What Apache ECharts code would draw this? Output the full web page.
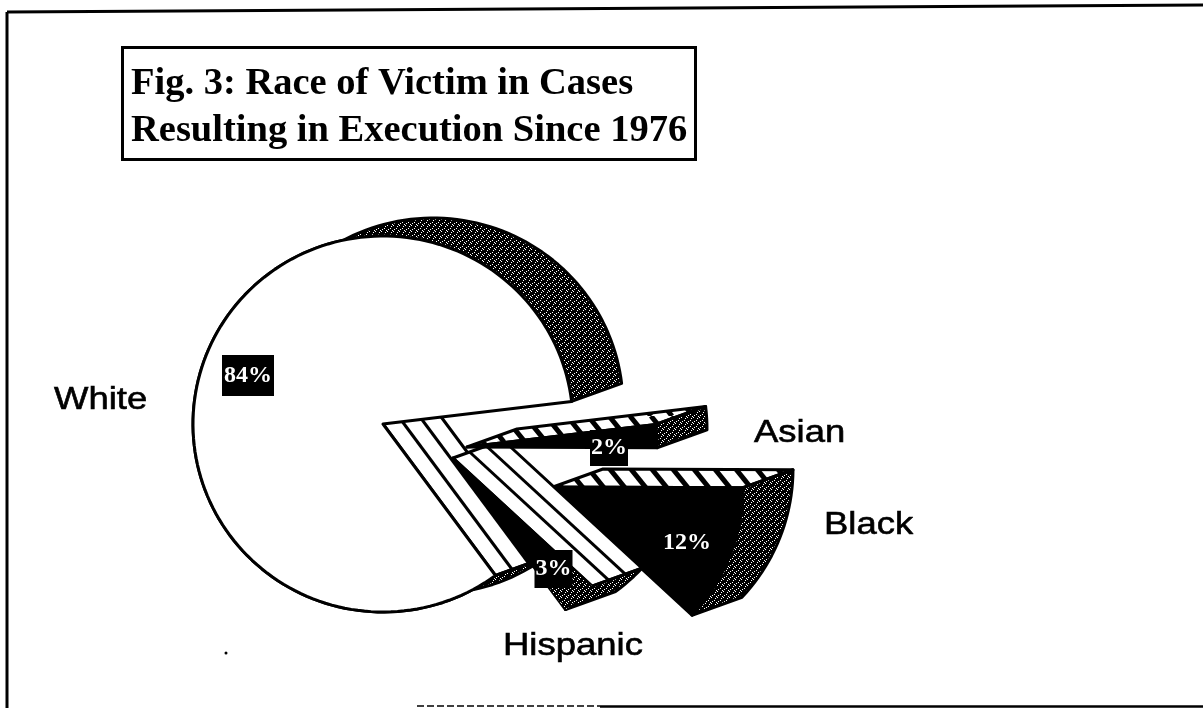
<!DOCTYPE html>
<html>
<head>
<meta charset="utf-8">
<style>
  html, body { margin: 0; padding: 0; background: #fff; }
  #chart { width: 1203px; height: 708px; }
</style>
<script src="https://cdn.jsdelivr.net/npm/echarts@6/dist/echarts.min.js"></script>
</head>
<body>
<div id="chart"></div>
<script>
// values as printed on the figure (they add up to 101)
const categories = ['Asian', 'Black', 'Hispanic', 'White'];
const values = [2, 12, 3, 84];
const drawOrder = ['White', 'Black', 'Hispanic', 'Asian'];
const titleLines = ['Fig. 3: Race of Victim in Cases', 'Resulting in Execution Since 1976'];

// look of the fake 3d pie
const pieCenter = [383, 424];
const radiusX = 190;
const radiusY = 188;
const depth = [50, -18];
const startAngle = 6.9;
const layout = {
  White: { explode: [0, 0], pct: [248, 375.5], pad: [5, 2, 12, 2], name: [54, 400], lines: 3 },
  Asian: { explode: [84, 23], pct: [609, 448], pad: [0, 1, 12, 1], name: [754, 433], hatch: true },
  Black: { explode: [170, 63], pct: [687, 543], pad: [0, 0, 0, 0], name: [824, 525], hatch: true },
  Hispanic: { explode: [70, 34], pct: [553.5, 569], pad: [2, 1, 12, 1], name: [503, 646], lines: 3, stipple: 0.78 }
};

function stippleTile() {
  const c = document.createElement('canvas');
  c.width = 6; c.height = 6;
  const ctx = c.getContext('2d');
  ctx.fillStyle = '#000';
  ctx.fillRect(0, 0, 6, 6);
  ctx.fillStyle = '#fff';
  [[0, 0], [3, 3], [1, 4], [4, 1], [2, 2]].forEach(function (p) { ctx.fillRect(p[0], p[1], 1, 1); });
  return c;
}

function hatchTile(w, h, lineW) {
  const c = document.createElement('canvas');
  c.width = w; c.height = h;
  const ctx = c.getContext('2d');
  ctx.fillStyle = '#fff';
  ctx.fillRect(0, 0, w, h);
  ctx.strokeStyle = '#000';
  ctx.lineWidth = lineW;
  [-w, 0, w].forEach(function (dx) {
    ctx.beginPath();
    ctx.moveTo(dx, 0);
    ctx.lineTo(dx + w, h);
    ctx.stroke();
  });
  return c;
}

const stipple = { image: stippleTile(), repeat: 'repeat' };
const hatch = { image: hatchTile(21, 26, 5), repeat: 'repeat' };

const total = values.reduce(function (a, b) { return a + b; }, 0);
let running = startAngle;
const startAngles = values.map(function (v) {
  const s = running;
  running -= v / total * 360;
  return s;
});

function onEllipse(apex, deg, k) {
  const a = deg * Math.PI / 180;
  const f = k === undefined ? 1 : k;
  return [apex[0] + radiusX * f * Math.cos(a), apex[1] - radiusY * f * Math.sin(a)];
}
function shift(p, t) {
  return [p[0] + depth[0] * t, p[1] + depth[1] * t];
}
function arcPoints(apex, from, to, k) {
  const pts = [];
  const n = Math.max(2, Math.ceil(Math.abs(to - from) / 2));
  for (let i = 0; i <= n; i++) {
    pts.push(onEllipse(apex, from + (to - from) * i / n, k));
  }
  return pts;
}

function renderSlice(params, api) {
  const name = drawOrder[params.dataIndex];
  const value = api.value(0);
  const from = api.value(1);
  const to = from - value / total * 360;
  const cfg = layout[name];
  const apex = [pieCenter[0] + cfg.explode[0], pieCenter[1] + cfg.explode[1]];
  const line = { stroke: '#000', lineWidth: 3, lineJoin: 'round' };
  const children = [];

  // radial side of the wedge, the one on the clockwise-start edge
  const edge = onEllipse(apex, from);
  const side = [apex, edge, shift(edge, 1), shift(apex, 1)];
  children.push({
    type: 'polygon',
    shape: { points: side },
    style: Object.assign({ fill: cfg.hatch ? hatch : '#fff' }, line)
  });
  if (cfg.lines) {
    for (let i = 1; i < cfg.lines; i++) {
      const t = i / cfg.lines;
      children.push({
        type: 'polyline',
        shape: { points: [shift(apex, t), shift(edge, t)] },
        style: { stroke: '#000', lineWidth: 3, fill: null }
      });
    }
  }

  // outer rim
  const rim = arcPoints(apex, from, to);
  children.push({
    type: 'polygon',
    shape: { points: rim.concat(rim.map(function (p) { return shift(p, 1); }).reverse()) },
    style: Object.assign({ fill: stipple }, line)
  });

  // front face
  children.push({
    type: 'polygon',
    shape: { points: [apex].concat(rim) },
    style: Object.assign({ fill: name === 'White' ? '#fff' : '#000' }, line)
  });
  if (cfg.stipple) {
    children.push({
      type: 'polygon',
      shape: { points: arcPoints(apex, from, to).concat(arcPoints(apex, to, from, cfg.stipple)) },
      style: { fill: stipple }
    });
  }

  // value label and category label
  children.push({
    type: 'text',
    x: cfg.pct[0],
    y: cfg.pct[1],
    style: {
      text: value + '%',
      fill: '#fff',
      font: 'bold 24px "Liberation Serif"',
      align: 'center',
      verticalAlign: 'middle',
      backgroundColor: '#000',
      padding: cfg.pad
    }
  });
  children.push({
    type: 'text',
    x: cfg.name[0],
    y: cfg.name[1],
    scaleX: 1.14,
    style: {
      text: name,
      fill: '#000',
      stroke: '#000',
      lineWidth: 0.6,
      font: '32px "Liberation Sans"',
      align: 'left',
      verticalAlign: 'middle'
    }
  });
  return { type: 'group', children: children };
}

const chart = echarts.init(document.getElementById('chart'));
chart.setOption({
  animation: false,
  backgroundColor: '#fff',
  title: {
    text: titleLines.join('\n'),
    left: 122,
    top: 47,
    borderColor: '#000',
    borderWidth: 3,
    padding: [14, 9, 5, 9],
    textStyle: {
      fontFamily: 'Liberation Serif',
      fontWeight: 'bold',
      fontSize: 38.5,
      lineHeight: 47,
      color: '#000'
    }
  },
  graphic: [
    { type: 'line', shape: { x1: 7, y1: 12, x2: 1203, y2: 5 }, style: { stroke: '#000', lineWidth: 3 } },
    { type: 'line', shape: { x1: 7, y1: 12, x2: 7, y2: 708 }, style: { stroke: '#000', lineWidth: 3 } },
    { type: 'line', shape: { x1: 417, y1: 706, x2: 600, y2: 706 }, style: { stroke: '#000', lineWidth: 1.5, lineDash: [7, 3] } },
    { type: 'line', shape: { x1: 600, y1: 706.5, x2: 1203, y2: 706.5 }, style: { stroke: '#000', lineWidth: 2.5 } },
    { type: 'circle', shape: { cx: 226, cy: 653, r: 1.5 }, style: { fill: '#000' } }
  ],
  series: [{
    type: 'custom',
    coordinateSystem: 'none',
    renderItem: renderSlice,
    encode: { value: 0 },
    data: drawOrder.map(function (name) {
      const i = categories.indexOf(name);
      return { name: name, value: [values[i], startAngles[i]] };
    })
  }]
});
</script>
</body>
</html>
